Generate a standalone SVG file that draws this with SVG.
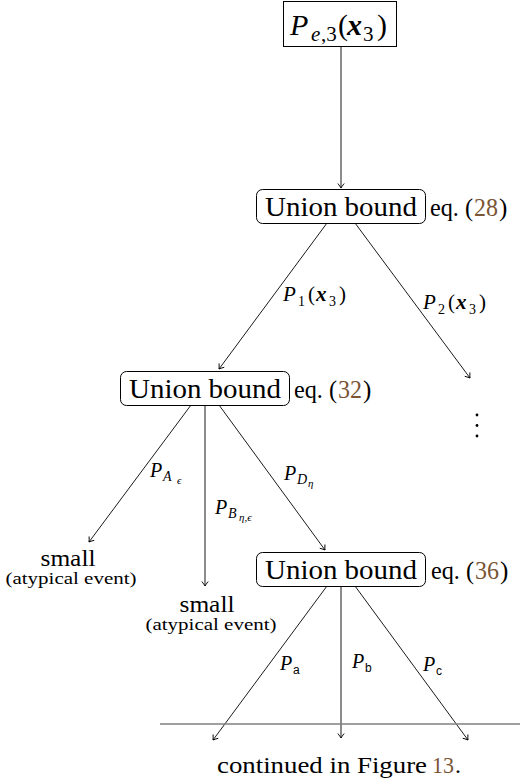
<svg xmlns="http://www.w3.org/2000/svg" width="520" height="783" viewBox="0 0 520 783" font-family="Liberation Serif, serif">
<style>
text{font-family:"Liberation Serif","Times New Roman",serif;fill:#000}
.box{fill:#fff;stroke:#000;stroke-width:1}
.big{font-size:28px}
.eq{font-size:25px}
.mi{font-style:italic}
.bi{font-style:italic;font-weight:bold}
.sf{font-family:"Liberation Sans",Arial,sans-serif}
.ref{fill:#7a5534}
.edge{stroke:#000;stroke-width:0.9;fill:none}
</style>
<defs>
<marker id="arr" markerWidth="10" markerHeight="10" refX="0" refY="0" viewBox="-6 -5 8 10" orient="auto" markerUnits="userSpaceOnUse">
<path d="M-4.5,-3.2 Q-1.5,-0.8 0,0 Q-1.5,0.8 -4.5,3.2" fill="none" stroke="#000" stroke-width="0.9"/>
</marker>
</defs>

<g id="connectors">
<line class="edge" x1="341" y1="47" x2="341" y2="188" marker-end="url(#arr)"/>
<line class="edge" x1="327" y1="223" x2="219" y2="369" marker-end="url(#arr)"/>
<line class="edge" x1="355" y1="223" x2="470" y2="378" marker-end="url(#arr)"/>
<line class="edge" x1="191" y1="405" x2="89" y2="542" marker-end="url(#arr)"/>
<line class="edge" x1="205" y1="405" x2="205" y2="586" marker-end="url(#arr)"/>
<line class="edge" x1="219" y1="405" x2="325" y2="550" marker-end="url(#arr)"/>
<line class="edge" x1="327" y1="586" x2="213" y2="740" marker-end="url(#arr)"/>
<line class="edge" x1="341" y1="586" x2="341" y2="738" marker-end="url(#arr)"/>
<line class="edge" x1="355" y1="586" x2="468" y2="740" marker-end="url(#arr)"/>
</g>

<g id="edge-labels">
<text font-size="21"><tspan class="mi" x="283" y="301">P</tspan><tspan x="298" y="306" font-size="14">1</tspan><tspan x="308" y="301">(</tspan><tspan class="bi" x="316" y="301">x</tspan><tspan x="329" y="306" font-size="14">3</tspan><tspan x="339" y="301">)</tspan></text>
<text font-size="21"><tspan class="mi" x="423" y="309">P</tspan><tspan x="438" y="314" font-size="14">2</tspan><tspan x="448" y="309">(</tspan><tspan class="bi" x="456" y="309">x</tspan><tspan x="469" y="314" font-size="14">3</tspan><tspan x="479" y="309">)</tspan></text>
<text font-size="20"><tspan class="mi" x="150" y="477">P</tspan><tspan class="mi" x="163" y="481" font-size="14">A</tspan><tspan class="mi" x="177" y="484" font-size="11">ϵ</tspan></text>
<text font-size="20"><tspan class="mi" x="215" y="514">P</tspan><tspan class="mi" x="228" y="518" font-size="14">B</tspan><tspan class="mi" x="239" y="521" font-size="11">η,ϵ</tspan></text>
<text font-size="20"><tspan class="mi" x="284" y="480">P</tspan><tspan class="mi" x="297" y="484" font-size="14">D</tspan><tspan class="mi" x="308" y="487" font-size="11">η</tspan></text>
<text font-size="20"><tspan class="mi" x="280" y="670">P</tspan><tspan class="sf" x="293" y="674" font-size="12">a</tspan></text>
<text font-size="20"><tspan class="mi" x="352" y="668">P</tspan><tspan class="sf" x="365" y="672" font-size="12">b</tspan></text>
<text font-size="20"><tspan class="mi" x="423" y="671">P</tspan><tspan class="sf" x="436" y="675" font-size="12">c</tspan></text>
</g>

<g id="n-top">
<rect class="box" x="283.5" y="1.5" width="113" height="45"/>
<text font-size="30"><tspan class="mi" x="290" y="35">P</tspan><tspan class="mi" x="311" y="41" font-size="21">e</tspan><tspan x="321" y="41" font-size="21">,3</tspan><tspan x="338" y="35">(</tspan><tspan class="bi" x="347" y="35">x</tspan><tspan x="363" y="41" font-size="21">3</tspan><tspan x="377" y="35">)</tspan></text>
</g>

<g id="n-ub1">
<rect class="box" x="256.5" y="189.5" width="169" height="34" rx="6"/>
<text class="big" x="341" y="216" text-anchor="middle" textLength="152" lengthAdjust="spacingAndGlyphs">Union bound</text>
<text class="eq" x="430" y="216" textLength="43" lengthAdjust="spacingAndGlyphs">eq. (</text>
<text class="eq ref" x="474" y="216" textLength="24" lengthAdjust="spacingAndGlyphs">28</text>
<text class="eq" x="499" y="216">)</text>
</g>

<g id="n-ub2">
<rect class="box" x="120.5" y="371.5" width="169" height="34" rx="6"/>
<text class="big" x="205" y="398" text-anchor="middle" textLength="152" lengthAdjust="spacingAndGlyphs">Union bound</text>
<text class="eq" x="294" y="398" textLength="43" lengthAdjust="spacingAndGlyphs">eq. (</text>
<text class="eq ref" x="338" y="398" textLength="24" lengthAdjust="spacingAndGlyphs">32</text>
<text class="eq" x="363" y="398">)</text>
</g>

<g id="n-ub3">
<rect class="box" x="256.5" y="552.5" width="169" height="34" rx="6"/>
<text class="big" x="341" y="579" text-anchor="middle" textLength="152" lengthAdjust="spacingAndGlyphs">Union bound</text>
<text class="eq" x="431" y="579" textLength="43" lengthAdjust="spacingAndGlyphs">eq. (</text>
<text class="eq ref" x="475" y="579" textLength="24" lengthAdjust="spacingAndGlyphs">36</text>
<text class="eq" x="500" y="579">)</text>
</g>

<g id="n-small1">
<text font-size="24" x="68" y="566" text-anchor="middle" textLength="55" lengthAdjust="spacingAndGlyphs">small</text>
<text font-size="16" x="71" y="584" text-anchor="middle" textLength="131" lengthAdjust="spacingAndGlyphs">(atypical event)</text>
</g>

<g id="n-small2">
<text font-size="24" x="207" y="612" text-anchor="middle" textLength="55" lengthAdjust="spacingAndGlyphs">small</text>
<text font-size="16" x="211" y="630" text-anchor="middle" textLength="131" lengthAdjust="spacingAndGlyphs">(atypical event)</text>
</g>

<g id="n-dots">
<circle cx="477" cy="415" r="1.4"/>
<circle cx="477" cy="425.5" r="1.4"/>
<circle cx="477" cy="436" r="1.4"/>
</g>

<g id="n-continued">
<line x1="160" y1="724" x2="520" y2="724" stroke="#808080" stroke-width="1.6"/>
<text font-size="24" x="217" y="773" textLength="210" lengthAdjust="spacingAndGlyphs">continued in Figure</text>
<text class="ref" font-size="24" x="432" y="773" textLength="22" lengthAdjust="spacingAndGlyphs">13</text>
<text font-size="24" x="455" y="773">.</text>
</g>
</svg>
